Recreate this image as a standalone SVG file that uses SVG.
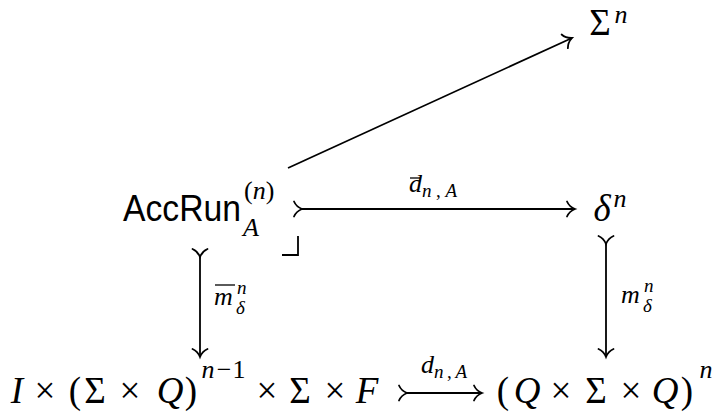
<svg xmlns="http://www.w3.org/2000/svg" width="722" height="413" viewBox="0 0 722 413">
<style>
.m{font-family:"Liberation Serif","Times New Roman",serif;font-style:italic;fill:#000}
.u{font-style:normal}
.ss{font-family:"Liberation Sans",Arial,sans-serif;font-style:normal}
.big{font-size:37px}
.sc{font-size:26px}
.ssc{font-size:19px}
.ln{stroke:#000;stroke-width:1.8;fill:none}
.bar{stroke:#000;stroke-width:1.3}
</style>
<defs>
<marker id="arr" markerUnits="userSpaceOnUse" markerWidth="20" markerHeight="20" refX="0" refY="0" orient="auto" overflow="visible">
<path d="M-8,-7.5 C-6,-3 -2,-0.8 0,0 C-2,0.8 -6,3 -8,7.5" fill="none" stroke="#000" stroke-width="1.8" stroke-linecap="round"/>
</marker>
</defs>

<g id="n-sigma">
<text class="m big" text-anchor="middle"><tspan class="u" x="600" y="35">Σ</tspan><tspan class="sc" x="621" y="23">n</tspan></text>
</g>

<g id="n-accrun">
<text class="m big"><tspan class="ss" x="123" y="221" textLength="118" lengthAdjust="spacingAndGlyphs">AccRun</tspan><tspan class="sc" x="244" y="199"><tspan class="u">(</tspan>n<tspan class="u">)</tspan></tspan><tspan class="sc" x="243" y="236">A</tspan></text>
</g>

<g id="n-delta">
<text class="m big" text-anchor="middle"><tspan x="602" y="221">δ</tspan><tspan class="sc" x="620" y="207">n</tspan></text>
</g>

<g id="n-left">
<text class="m big" text-anchor="middle"><tspan x="17" y="403">I</tspan><tspan class="u" x="45">×</tspan><tspan class="u" x="75">(</tspan><tspan class="u" x="95">Σ</tspan><tspan class="u" x="130">×</tspan><tspan x="170">Q</tspan><tspan class="u" x="191">)</tspan><tspan class="sc" x="208" y="378">n</tspan><tspan class="sc u" x="224">−</tspan><tspan class="sc u" x="239">1</tspan><tspan class="u" x="267" y="403">×</tspan><tspan class="u" x="300">Σ</tspan><tspan class="u" x="335">×</tspan><tspan x="367">F</tspan></text>
</g>

<g id="n-right">
<text class="m big" text-anchor="middle"><tspan class="u" x="503" y="403">(</tspan><tspan x="527">Q</tspan><tspan class="u" x="561">×</tspan><tspan class="u" x="596">Σ</tspan><tspan class="u" x="631">×</tspan><tspan x="665">Q</tspan><tspan class="u" x="687">)</tspan><tspan class="sc" x="706" y="378">n</tspan></text>
</g>

<g id="connectors">
<path class="ln" d="M288,168 L572,38" marker-end="url(#arr)"/>
<path class="ln" d="M302,209 L575,209" marker-start="url(#arr)" marker-end="url(#arr)"/>
<path class="ln" d="M200,257 L200,357" marker-start="url(#arr)" marker-end="url(#arr)"/>
<path class="ln" d="M606,244 L606,357" marker-start="url(#arr)" marker-end="url(#arr)"/>
<path class="ln" d="M407,393 L482,393" marker-start="url(#arr)" marker-end="url(#arr)"/>
<path class="ln" d="M282,255 H298 V236"/>
<g id="lbl-top">
<line class="bar" x1="410" y1="178" x2="420" y2="178"/>
<text class="m sc"><tspan x="409" y="192">d</tspan><tspan class="ssc" x="422" y="197" textLength="35" lengthAdjust="spacing">n<tspan class="u">,</tspan>A</tspan></text>
</g>
<g id="lbl-bottom">
<text class="m sc"><tspan x="421" y="373">d</tspan><tspan class="ssc" x="434" y="378" textLength="33" lengthAdjust="spacing">n<tspan class="u">,</tspan>A</tspan></text>
</g>
<g id="lbl-left">
<line class="bar" x1="215" y1="285" x2="235" y2="285"/>
<text class="m sc"><tspan x="214" y="305">m</tspan><tspan class="ssc" x="237" y="294">n</tspan><tspan class="ssc" x="236" y="314">δ</tspan></text>
</g>
<g id="lbl-right">
<text class="m sc"><tspan x="621" y="303">m</tspan><tspan class="ssc" x="644" y="292">n</tspan><tspan class="ssc" x="643" y="312">δ</tspan></text>
</g>
</g>
</svg>
